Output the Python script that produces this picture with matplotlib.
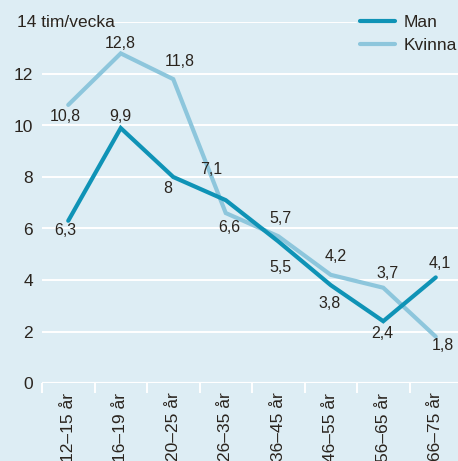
import matplotlib
matplotlib.use("Agg")
import matplotlib.pyplot as plt
from matplotlib.ticker import FixedLocator
import matplotlib.transforms as mtransforms

categories = ["12–15 år", "16–19 år", "20–25 år", "26–35 år", "36–45 år", "46–55 år", "56–65 år", "66–75 år"]
man = [6.3, 9.9, 8.0, 7.1, 5.5, 3.8, 2.4, 4.1]
kvinna = [10.8, 12.8, 11.8, 6.6, 5.7, 4.2, 3.7, 1.8]
yticks = [0, 2, 4, 6, 8, 10, 12, 14]

# label offsets in pixels (dx, dy; dy positive = downwards)
man_off = [(-3, 10), (0, -12), (-5, 11), (-15, -31), (2, 26), (-1, 18), (-1, 12), (4, -14)]
kv_off = [(-3, 12), (0, -10), (7, -18), (4, 14), (2, -18), (5, -18), (4, -14), (7, 9)]

BG = "#ddedf4"
C_MAN = "#0f93b6"
C_KV = "#8dc6dc"
TXT = "#2a241e"

plt.rcParams['font.family'] = ['Liberation Sans', 'DejaVu Sans']

W, H = 458, 461
fig = plt.figure(figsize=(W / 100, H / 100), dpi=100, facecolor=BG)
ax = fig.add_axes([42 / W, (H - 383) / H, 420 / W, (383 - 22.5) / H])
ax.set_facecolor(BG)
x = list(range(len(categories)))
ax.set_xlim(-0.5, 7.5)
ax.set_ylim(0, 14)

for s in ax.spines.values():
    s.set_visible(False)

ax.set_yticks(yticks)
ax.set_yticklabels([str(v) if v != 14 else "" for v in yticks], fontsize=12.5, color=TXT)
ax.tick_params(axis='y', length=0, pad=6.5)
ax.yaxis.grid(True, color='white', lw=1.4)
ax.set_axisbelow(True)

ax.set_xticks(x)
ax.set_xticklabels(categories, rotation=90, fontsize=12.5, color=TXT, va='top')
ax.tick_params(axis='x', which='major', length=0, pad=7)
ax.xaxis.set_minor_locator(FixedLocator([i - 0.5 for i in range(len(categories) + 1)]))
ax.tick_params(axis='x', which='minor', length=7.5, width=1.4, color='white')

ax.axhline(0, color='white', lw=1.6, zorder=1)

trans = mtransforms.blended_transform_factory(fig.transFigure, ax.transData)
ax.text(17 / W, 14, "14 tim/vecka", transform=trans, fontsize=12.5, color=TXT, ha='left', va='center')

ax.plot(x, kvinna, color=C_KV, lw=3, solid_capstyle='round', solid_joinstyle='miter', label="Kvinna", clip_on=False, zorder=3)
ax.plot(x, man, color=C_MAN, lw=3, solid_capstyle='round', solid_joinstyle='miter', label="Man", clip_on=False, zorder=4)

def fmt(v):
    s = ("%g" % v).replace(".", ",")
    return s

for xs, vals, offs in ((x, man, man_off), (x, kvinna, kv_off)):
    for xi, v, (dx, dy) in zip(xs, vals, offs):
        ax.annotate(fmt(v), (xi, v), xytext=(dx * 0.72, -dy * 0.72), textcoords='offset points',
                    ha='center', va='center', fontsize=11.5, color=TXT, annotation_clip=False, zorder=5)

h, l = ax.get_legend_handles_labels()
leg = ax.legend([h[1], h[0]], ["Man", "Kvinna"], loc='upper right', bbox_to_anchor=(1.006, (H - 11) / H),
                bbox_transform=fig.transFigure, frameon=True, fontsize=12.5, handlelength=2.0,
                handletextpad=0.5, borderpad=0.2, labelspacing=0.45, borderaxespad=0)
leg.get_frame().set_facecolor(BG)
leg.get_frame().set_edgecolor(BG)
leg.get_frame().set_alpha(1)
for t in leg.get_texts():
    t.set_color(TXT)

fig.savefig("out.png", dpi=100, facecolor=BG)
